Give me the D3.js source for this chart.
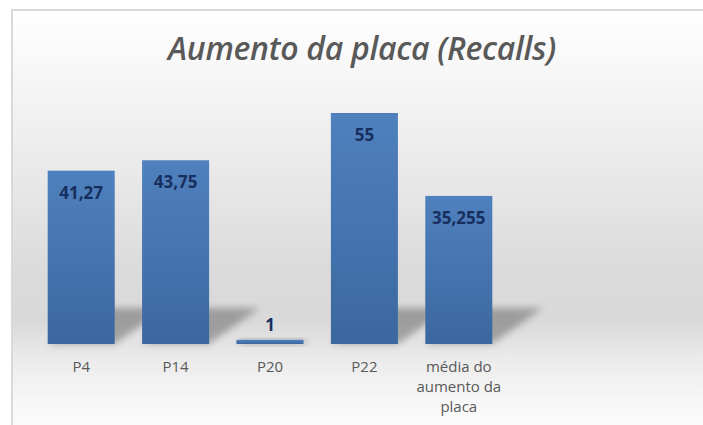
<!DOCTYPE html>
<html>
<head>
<meta charset="utf-8">
<script src="https://cdn.jsdelivr.net/npm/d3@7"></script>
<style>
  html, body { margin: 0; padding: 0; background: #fff; }
  svg { display: block; }
</style>
</head>
<body>
<svg id="chart"></svg>
<script>
var categories = ["P4", "P14", "P20", "P22", "media"];
var values = [41.27, 43.75, 1, 55, 35.255];
var valueLabels = ["41,27", "43,75", "1", "55", "35,255"];
var tickLabels = [["P4"], ["P14"], ["P20"], ["P22"], ["média do", "aumento da", "placa"]];

var W = 703, H = 425;
var svg = d3.select("#chart").attr("width", W).attr("height", H);

var defs = svg.append("defs");

// background of the chart area
var bg = defs.append("linearGradient")
    .attr("id", "bgGrad")
    .attr("gradientUnits", "userSpaceOnUse")
    .attr("x1", 0).attr("y1", 10).attr("x2", 0).attr("y2", 425);
[[0, "#ffffff"], [0.22, "#f3f3f3"], [0.46, "#e5e5e5"], [0.62, "#dbdbdb"], [0.75, "#d9d9d9"], [0.84, "#ebebeb"], [0.94, "#f7f7f7"], [1, "#fbfbfb"]]
  .forEach(function(s) { bg.append("stop").attr("offset", s[0]).attr("stop-color", s[1]); });

var barGrad = defs.append("linearGradient")
    .attr("id", "barGrad").attr("x1", 0).attr("y1", 0).attr("x2", 0).attr("y2", 1);
barGrad.append("stop").attr("offset", 0).attr("stop-color", "#4f81be");
barGrad.append("stop").attr("offset", 1).attr("stop-color", "#3b679f");

defs.append("filter").attr("id", "blur")
    .attr("x", "-50%").attr("y", "-50%").attr("width", "200%").attr("height", "200%")
  .append("feGaussianBlur").attr("stdDeviation", 3.5);

svg.append("rect")
    .attr("x", 12).attr("y", 10)
    .attr("width", 720).attr("height", 440)
    .attr("fill", "url(#bgGrad)")
    .attr("stroke", "#d9d9d9")
    .attr("stroke-width", 2);

// title
svg.append("text")
    .attr("x", 362).attr("y", 60)
    .attr("text-anchor", "middle")
    .attr("font-family", "'Open Sans', sans-serif")
    .attr("font-style", "italic")
    .attr("font-weight", 600)
    .attr("font-size", 32)
    .attr("letter-spacing", -0.3)
    .attr("fill", "#595959")
    .text("Aumento da placa (Recalls)");

var x = d3.scaleBand()
    .domain(categories)
    .range([34, 506])
    .paddingInner(0.29)
    .paddingOuter(0.145);

var y = d3.scaleLinear()
    .domain([0, 60])
    .range([344, 92]);

var g = svg.append("g");

// perspective shadows behind the bars
g.selectAll("path.shadow")
    .data(values)
  .enter().append("path")
    .attr("class", "shadow")
    .attr("fill", "rgba(0,0,0,0.28)")
    .attr("filter", "url(#blur)")
    .attr("d", function(d, i) {
        var x0 = x(categories[i]), x1 = x0 + x.bandwidth();
        var h = Math.min(y(0) - y(d), 36);
        var dx = h * 1.4;
        var b = y(0);
        return "M" + x0 + "," + b + "L" + x1 + "," + b +
               "L" + (x1 + dx) + "," + (b - h) + "L" + (x0 + dx) + "," + (b - h) + "Z";
    });

g.selectAll("rect.bar")
    .data(values)
  .enter().append("rect")
    .attr("class", "bar")
    .attr("x", function(d, i) { return x(categories[i]); })
    .attr("y", function(d) { return y(d); })
    .attr("width", x.bandwidth())
    .attr("height", function(d) { return y(0) - y(d); })
    .attr("fill", "url(#barGrad)");

g.selectAll("text.val")
    .data(values)
  .enter().append("text")
    .attr("class", "val")
    .attr("x", function(d, i) { return x(categories[i]) + x.bandwidth() / 2; })
    .attr("y", function(d) {
        var h = y(0) - y(d);
        return h > 30 ? y(d) + 28 : y(d) - 9;
    })
    .attr("text-anchor", "middle")
    .attr("font-family", "'Open Sans', sans-serif")
    .attr("font-weight", "bold")
    .attr("font-size", 17)
    .attr("fill", "#172f5e")
    .text(function(d, i) { return valueLabels[i]; });

// category labels
var xa = g.selectAll("text.cat")
    .data(tickLabels)
  .enter().append("text")
    .attr("class", "cat")
    .attr("text-anchor", "middle")
    .attr("font-family", "'Open Sans', sans-serif")
    .attr("font-size", 15)
    .attr("fill", "#595959");
xa.each(function(lines, i) {
    var cx = x(categories[i]) + x.bandwidth() / 2;
    d3.select(this).selectAll("tspan")
        .data(lines)
      .enter().append("tspan")
        .attr("x", cx)
        .attr("y", function(l, j) { return 372 + j * 20; })
        .text(function(l) { return l; });
});
</script>
</body>
</html>
